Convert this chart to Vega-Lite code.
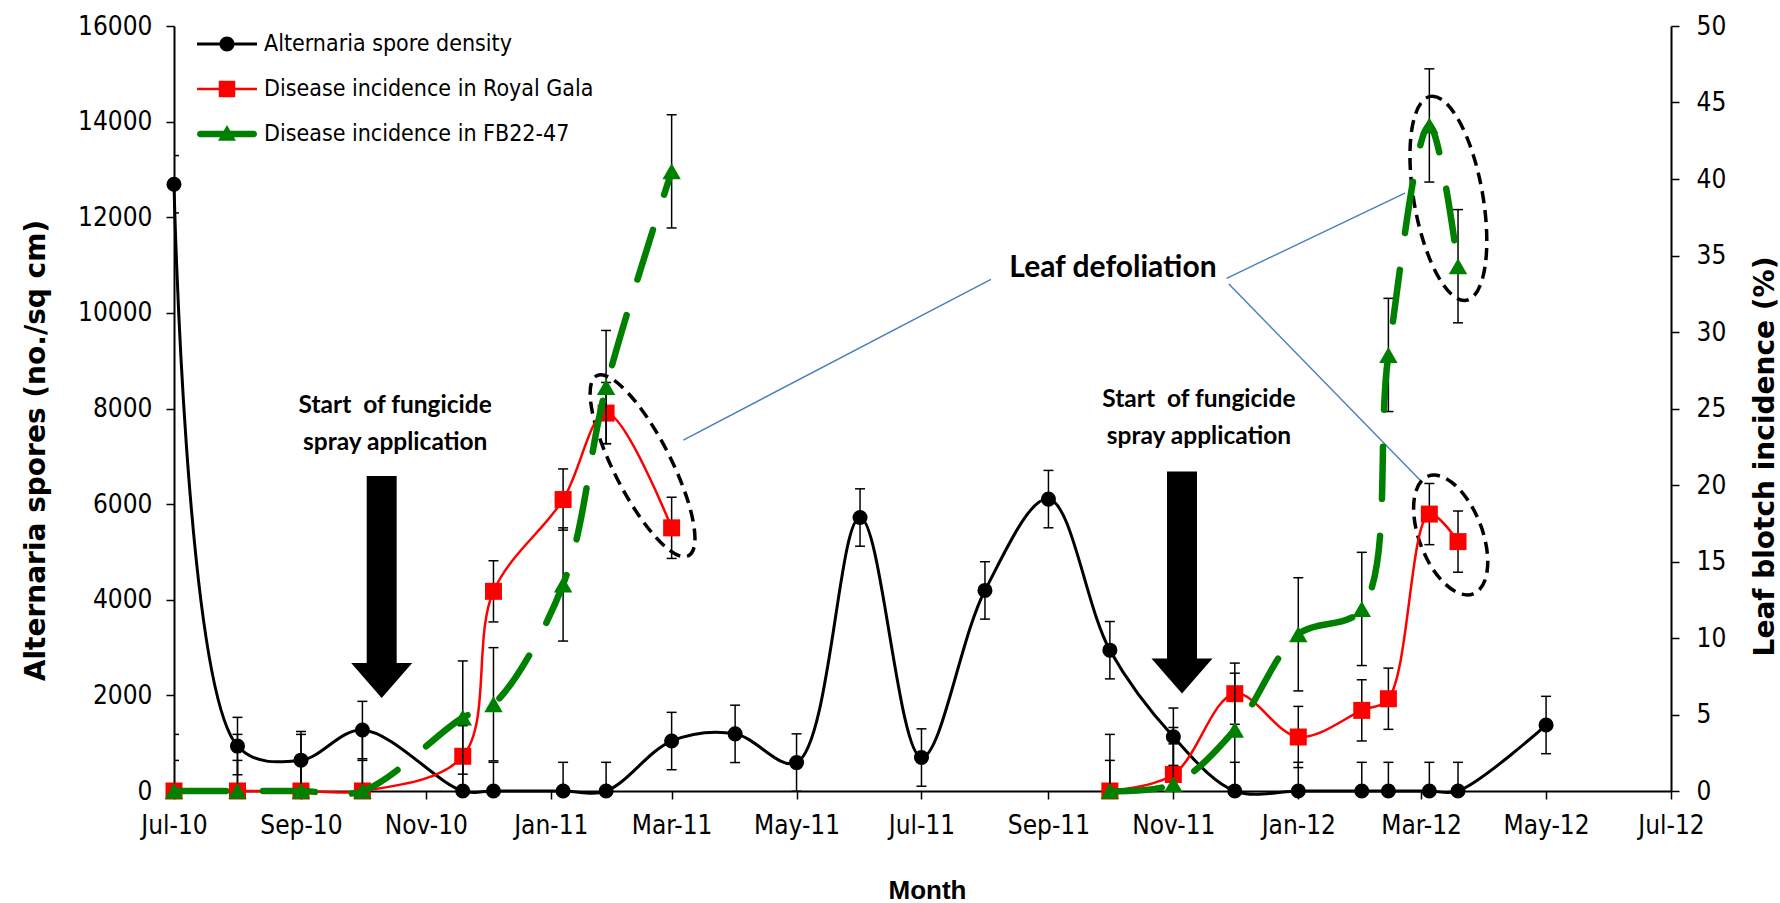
{
  "$schema": "https://vega.github.io/schema/vega-lite/v6.json",
  "autosize": {"type": "none"},
  "padding": {"left": 174, "top": 26, "right": 109, "bottom": 112},
  "width": 1497,
  "height": 765,
  "background": "white",
  "config": {
    "view": {"stroke": null},
    "axis": {"grid": false, "domainColor": "black", "tickColor": "black", "labelColor": "black", "titleColor": "black"}
  },
  "datasets": {
    "spores": [
      {"date": "2010-07-01", "v": 12690, "lo": 12090, "hi": 13290},
      {"date": "2010-08-01", "v": 940, "lo": 340, "hi": 1540},
      {"date": "2010-09-01", "v": 645, "lo": 45, "hi": 1245},
      {"date": "2010-10-01", "v": 1275, "lo": 675, "hi": 1875},
      {"date": "2010-11-19", "v": 0, "lo": -600, "hi": 600},
      {"date": "2010-12-04", "v": 0, "lo": -600, "hi": 600},
      {"date": "2011-01-07", "v": 0, "lo": -600, "hi": 600},
      {"date": "2011-01-28", "v": 0, "lo": -600, "hi": 600},
      {"date": "2011-03-01", "v": 1045, "lo": 445, "hi": 1645},
      {"date": "2011-04-01", "v": 1195, "lo": 595, "hi": 1795},
      {"date": "2011-05-01", "v": 595, "lo": -5, "hi": 1195},
      {"date": "2011-06-01", "v": 5720, "lo": 5120, "hi": 6320},
      {"date": "2011-07-01", "v": 700, "lo": 100, "hi": 1300},
      {"date": "2011-08-01", "v": 4195, "lo": 3595, "hi": 4795},
      {"date": "2011-09-01", "v": 6105, "lo": 5505, "hi": 6705},
      {"date": "2011-10-01", "v": 2945, "lo": 2345, "hi": 3545},
      {"date": "2011-11-01", "v": 1135, "lo": 535, "hi": 1735},
      {"date": "2011-12-01", "v": 0, "lo": -600, "hi": 600},
      {"date": "2012-01-01", "v": 0, "lo": -600, "hi": 600},
      {"date": "2012-02-01", "v": 0, "lo": -600, "hi": 600},
      {"date": "2012-02-14", "v": 0, "lo": -600, "hi": 600},
      {"date": "2012-03-05", "v": 0, "lo": -600, "hi": 600},
      {"date": "2012-03-19", "v": 0, "lo": -600, "hi": 600},
      {"date": "2012-05-01", "v": 1380, "lo": 780, "hi": 1980}
    ],
    "disease": [
      {"date": "2010-07-01", "cultivar": "Royal Gala", "season": 1, "p": 0, "lo": -2, "hi": 2},
      {"date": "2010-08-01", "cultivar": "Royal Gala", "season": 1, "p": 0, "lo": -2, "hi": 2},
      {"date": "2010-09-01", "cultivar": "Royal Gala", "season": 1, "p": 0, "lo": -2, "hi": 2},
      {"date": "2010-10-01", "cultivar": "Royal Gala", "season": 1, "p": 0, "lo": -2, "hi": 2},
      {"date": "2010-11-19", "cultivar": "Royal Gala", "season": 1, "p": 2.27, "lo": 0.27, "hi": 4.27},
      {"date": "2010-12-04", "cultivar": "Royal Gala", "season": 1, "p": 13.05, "lo": 11.05, "hi": 15.05},
      {"date": "2011-01-07", "cultivar": "Royal Gala", "season": 1, "p": 19.05, "lo": 17.05, "hi": 21.05},
      {"date": "2011-01-28", "cultivar": "Royal Gala", "season": 1, "p": 24.7, "lo": 22.7, "hi": 26.7},
      {"date": "2011-03-01", "cultivar": "Royal Gala", "season": 1, "p": 17.2, "lo": 15.2, "hi": 19.2},
      {"date": "2011-10-01", "cultivar": "Royal Gala", "season": 2, "p": 0, "lo": -2, "hi": 2},
      {"date": "2011-11-01", "cultivar": "Royal Gala", "season": 2, "p": 1.08, "lo": -0.92, "hi": 3.08},
      {"date": "2011-12-01", "cultivar": "Royal Gala", "season": 2, "p": 6.36, "lo": 4.36, "hi": 8.36},
      {"date": "2012-01-01", "cultivar": "Royal Gala", "season": 2, "p": 3.53, "lo": 1.53, "hi": 5.53},
      {"date": "2012-02-01", "cultivar": "Royal Gala", "season": 2, "p": 5.27, "lo": 3.27, "hi": 7.27},
      {"date": "2012-02-14", "cultivar": "Royal Gala", "season": 2, "p": 6.03, "lo": 4.03, "hi": 8.03},
      {"date": "2012-03-05", "cultivar": "Royal Gala", "season": 2, "p": 18.1, "lo": 16.1, "hi": 20.1},
      {"date": "2012-03-19", "cultivar": "Royal Gala", "season": 2, "p": 16.3, "lo": 14.3, "hi": 18.3},
      {"date": "2010-07-01", "cultivar": "FB22-47", "season": 1, "p": 0, "lo": -3.7, "hi": 3.7},
      {"date": "2010-08-01", "cultivar": "FB22-47", "season": 1, "p": 0, "lo": -3.7, "hi": 3.7},
      {"date": "2010-09-01", "cultivar": "FB22-47", "season": 1, "p": 0, "lo": -3.7, "hi": 3.7},
      {"date": "2010-10-01", "cultivar": "FB22-47", "season": 1, "p": 0, "lo": -3.7, "hi": 3.7},
      {"date": "2010-11-19", "cultivar": "FB22-47", "season": 1, "p": 4.8, "lo": 1.1, "hi": 8.5},
      {"date": "2010-12-04", "cultivar": "FB22-47", "season": 1, "p": 5.67, "lo": 1.97, "hi": 9.37},
      {"date": "2011-01-07", "cultivar": "FB22-47", "season": 1, "p": 13.5, "lo": 9.8, "hi": 17.2},
      {"date": "2011-01-28", "cultivar": "FB22-47", "season": 1, "p": 26.4, "lo": 22.7, "hi": 30.1},
      {"date": "2011-03-01", "cultivar": "FB22-47", "season": 1, "p": 40.5, "lo": 36.8, "hi": 44.2},
      {"date": "2011-10-01", "cultivar": "FB22-47", "season": 2, "p": 0, "lo": -3.7, "hi": 3.7},
      {"date": "2011-11-01", "cultivar": "FB22-47", "season": 2, "p": 0.45, "lo": -3.25, "hi": 4.15},
      {"date": "2011-12-01", "cultivar": "FB22-47", "season": 2, "p": 4.0, "lo": 0.3, "hi": 7.7},
      {"date": "2012-01-01", "cultivar": "FB22-47", "season": 2, "p": 10.24, "lo": 6.54, "hi": 13.94},
      {"date": "2012-02-01", "cultivar": "FB22-47", "season": 2, "p": 11.9, "lo": 8.2, "hi": 15.6},
      {"date": "2012-02-14", "cultivar": "FB22-47", "season": 2, "p": 28.5, "lo": 24.8, "hi": 32.2},
      {"date": "2012-03-05", "cultivar": "FB22-47", "season": 2, "p": 43.5, "lo": 39.8, "hi": 47.2},
      {"date": "2012-03-19", "cultivar": "FB22-47", "season": 2, "p": 34.3, "lo": 30.6, "hi": 38.0}
    ]
  },
  "encoding": {
    "x": {
      "field": "date",
      "type": "temporal",
      "scale": {"type": "utc", "domain": [{"year": 2010, "month": 7, "date": 1, "utc": true}, {"year": 2012, "month": 7, "date": 1, "utc": true}]},
      "axis": {
        "title": "Month",
        "format": "%b-%y",
        "tickCount": {"interval": "month", "step": 2},
        "labelFont": "DejaVu Sans Condensed, Liberation Sans",
        "labelFontSize": 26,
        "labelPadding": 13,
        "labelFlush": false,
        "labelOverlap": false,
        "tickSize": 8,
        "tickWidth": 1.5,
        "domainWidth": 2,
        "titleFont": "Liberation Sans",
        "titleFontWeight": "bold",
        "titleFontSize": 26,
        "titleX": 753,
        "titleY": 107,
        "titleAlign": "center",
        "titleBaseline": "alphabetic"
      }
    }
  },
  "layer": [
    {
      "data": {"name": "spores"},
      "mark": {"type": "rule", "clip": true, "color": "black", "strokeWidth": 1.5},
      "encoding": {
        "y": {
          "field": "lo", "type": "quantitative",
          "scale": {"domain": [0, 16000], "nice": false},
          "axis": {
            "orient": "left",
            "title": "Alternaria spores (no./sq cm)",
            "values": [0, 2000, 4000, 6000, 8000, 10000, 12000, 14000, 16000],
            "format": "d",
            "labelFont": "DejaVu Sans Condensed, Liberation Sans",
            "labelFontSize": 26,
            "labelPadding": 14,
            "tickSize": 8,
            "tickWidth": 1.5,
            "domainWidth": 2,
            "titleFont": "DejaVu Sans, Liberation Sans",
            "titleFontWeight": "bold",
            "titleFontSize": 28,
            "titleAngle": -90,
            "titleX": -138,
            "titleY": 424,
            "titleAlign": "center",
            "titleBaseline": "middle"
          }
        },
        "y2": {"field": "hi"}
      }
    },
    {
      "data": {"name": "spores"},
      "mark": {"type": "tick", "clip": true, "orient": "horizontal", "color": "black", "size": 10, "thickness": 1.5, "opacity": 1},
      "encoding": {"y": {"field": "lo", "type": "quantitative", "scale": {"domain": [0, 16000], "nice": false}, "axis": null}}
    },
    {
      "data": {"name": "spores"},
      "mark": {"type": "tick", "clip": true, "orient": "horizontal", "color": "black", "size": 10, "thickness": 1.5, "opacity": 1},
      "encoding": {"y": {"field": "hi", "type": "quantitative", "scale": {"domain": [0, 16000], "nice": false}, "axis": null}}
    },
    {
      "data": {"name": "spores"},
      "mark": {"type": "line", "color": "black", "strokeWidth": 3, "interpolate": "catmull-rom"},
      "encoding": {"y": {"field": "v", "type": "quantitative", "scale": {"domain": [0, 16000], "nice": false}, "axis": null}}
    },
    {
      "data": {"name": "spores"},
      "mark": {"type": "point", "shape": "circle", "filled": true, "color": "black", "size": 227, "opacity": 1, "strokeWidth": 0},
      "encoding": {"y": {"field": "v", "type": "quantitative", "scale": {"domain": [0, 16000], "nice": false}, "axis": null}}
    },
    {
      "data": {"values": [{"date": "2010-10-10T10:00:00Z", "v": 4267}, {"date": "2011-11-05T05:00:00Z", "v": 4361}]},
      "mark": {"type": "point", "shape": "M -0.135 -1 L 0.135 -1 L 0.135 0.685 L 0.275 0.685 L 0 1 L -0.275 0.685 L -0.135 0.685 Z", "size": 49284, "filled": true, "color": "black", "opacity": 1, "strokeWidth": 0},
      "encoding": {"y": {"field": "v", "type": "quantitative", "scale": {"domain": [0, 16000], "nice": false}, "axis": null}}
    },
    {
      "data": {"values": [{"date": "2010-10-17T00:00:00Z", "v": 7900, "label": "Start \u00a0of fungicide\nspray application"}, {"date": "2011-11-13T12:00:00Z", "v": 8038, "label": "Start \u00a0of fungicide\nspray application"}]},
      "mark": {"type": "text", "font": "Lato", "fontWeight": "bold", "fontSize": 24.5, "align": "center", "baseline": "alphabetic", "lineBreak": "\n", "lineHeight": 37, "color": "black"},
      "encoding": {"y": {"field": "v", "type": "quantitative", "scale": {"domain": [0, 16000], "nice": false}, "axis": null}, "text": {"field": "label"}}
    },
    {
      "data": {"values": [{"date": "2011-10-02T12:00:00Z", "v": 10744, "label": "Leaf defoliation"}]},
      "mark": {"type": "text", "font": "Lato", "fontWeight": "bold", "fontSize": 30, "align": "center", "baseline": "alphabetic", "color": "black"},
      "encoding": {"y": {"field": "v", "type": "quantitative", "scale": {"domain": [0, 16000], "nice": false}, "axis": null}, "text": {"field": "label"}}
    },
    {
      "data": {"values": [
        {"date": "2011-03-06T17:00:00Z", "v": 7341, "date2": "2011-08-03T22:00:00Z", "v2": 10702},
        {"date": "2011-11-27T00:00:00Z", "v": 10723, "date2": "2012-02-22T02:00:00Z", "v2": 12507},
        {"date": "2011-11-28T02:00:00Z", "v": 10604, "date2": "2012-02-29T10:00:00Z", "v2": 6505}
      ]},
      "mark": {"type": "rule", "color": "#4a7ebb", "strokeWidth": 1.4},
      "encoding": {"y": {"field": "v", "type": "quantitative", "scale": {"domain": [0, 16000], "nice": false}, "axis": null}, "x2": {"field": "date2"}, "y2": {"field": "v2"}}
    },
    {
      "data": {"values": [{"date": "2011-02-14T19:00:00Z", "v": 6802}]},
      "mark": {"type": "point", "shape": "M -1 0 A 1 0.282 0 1 1 1 0 A 1 0.282 0 1 1 -1 0 Z", "size": 40804, "angle": 63, "filled": false, "color": "black", "strokeWidth": 3.5, "strokeDash": [12, 7], "opacity": 1},
      "encoding": {"y": {"field": "v", "type": "quantitative", "scale": {"domain": [0, 16000], "nice": false}, "axis": null}}
    },
    {
      "data": {"values": [{"date": "2012-03-14T07:00:00Z", "v": 12396}]},
      "mark": {"type": "point", "shape": "M -1 0 A 1 0.333 0 1 1 1 0 A 1 0.333 0 1 1 -1 0 Z", "size": 42849, "angle": 80, "filled": false, "color": "black", "strokeWidth": 3.5, "strokeDash": [12, 7], "opacity": 1},
      "encoding": {"y": {"field": "v", "type": "quantitative", "scale": {"domain": [0, 16000], "nice": false}, "axis": null}}
    },
    {
      "data": {"values": [{"date": "2012-03-15T10:00:00Z", "v": 5354}]},
      "mark": {"type": "point", "shape": "M -1 0 A 1 0.5 0 1 1 1 0 A 1 0.5 0 1 1 -1 0 Z", "size": 15876, "angle": 69, "filled": false, "color": "black", "strokeWidth": 3.5, "strokeDash": [12, 7], "opacity": 1},
      "encoding": {"y": {"field": "v", "type": "quantitative", "scale": {"domain": [0, 16000], "nice": false}, "axis": null}}
    },
    {
      "data": {"name": "disease"},
      "transform": [{"filter": "datum.cultivar === 'Royal Gala'"}],
      "mark": {"type": "rule", "clip": true, "color": "black", "strokeWidth": 1.5},
      "encoding": {
        "y": {
          "field": "lo", "type": "quantitative",
          "scale": {"domain": [0, 50], "nice": false},
          "axis": {
            "orient": "right",
            "title": "Leaf blotch incidence (%)",
            "values": [0, 5, 10, 15, 20, 25, 30, 35, 40, 45, 50],
            "format": "d",
            "labelFont": "DejaVu Sans Condensed, Liberation Sans",
            "labelFontSize": 26,
            "labelPadding": 17,
            "tickSize": 8,
            "tickWidth": 1.5,
            "domainWidth": 2,
            "titleFont": "DejaVu Sans, Liberation Sans",
            "titleFontWeight": "bold",
            "titleFontSize": 28,
            "titleAngle": -90,
            "titleX": 94,
            "titleY": 430,
            "titleAlign": "center",
            "titleBaseline": "middle"
          }
        },
        "y2": {"field": "hi"}
      }
    },
    {
      "data": {"name": "disease"},
      "transform": [{"filter": "datum.cultivar === 'Royal Gala'"}],
      "mark": {"type": "tick", "clip": true, "orient": "horizontal", "color": "black", "size": 10, "thickness": 1.5, "opacity": 1},
      "encoding": {"y": {"field": "lo", "type": "quantitative", "scale": {"domain": [0, 50], "nice": false}, "axis": null}}
    },
    {
      "data": {"name": "disease"},
      "transform": [{"filter": "datum.cultivar === 'Royal Gala'"}],
      "mark": {"type": "tick", "clip": true, "orient": "horizontal", "color": "black", "size": 10, "thickness": 1.5, "opacity": 1},
      "encoding": {"y": {"field": "hi", "type": "quantitative", "scale": {"domain": [0, 50], "nice": false}, "axis": null}}
    },
    {
      "data": {"name": "disease"},
      "transform": [{"filter": "datum.cultivar === 'Royal Gala'"}],
      "mark": {"type": "line", "color": "#ff0000", "strokeWidth": 2.5, "interpolate": "catmull-rom"},
      "encoding": {"y": {"field": "p", "type": "quantitative", "scale": {"domain": [0, 50], "nice": false}, "axis": null}, "detail": {"field": "season", "type": "nominal"}}
    },
    {
      "data": {"name": "disease"},
      "transform": [{"filter": "datum.cultivar === 'Royal Gala'"}],
      "mark": {"type": "point", "shape": "square", "filled": true, "color": "#ff0000", "size": 289, "opacity": 1, "strokeWidth": 0},
      "encoding": {"y": {"field": "p", "type": "quantitative", "scale": {"domain": [0, 50], "nice": false}, "axis": null}}
    },
    {
      "data": {"name": "disease"},
      "transform": [{"filter": "datum.cultivar === 'FB22-47'"}],
      "mark": {"type": "rule", "clip": true, "color": "black", "strokeWidth": 1.5},
      "encoding": {"y": {"field": "lo", "type": "quantitative", "scale": {"domain": [0, 50], "nice": false}, "axis": null}, "y2": {"field": "hi"}}
    },
    {
      "data": {"name": "disease"},
      "transform": [{"filter": "datum.cultivar === 'FB22-47'"}],
      "mark": {"type": "tick", "clip": true, "orient": "horizontal", "color": "black", "size": 10, "thickness": 1.5, "opacity": 1},
      "encoding": {"y": {"field": "lo", "type": "quantitative", "scale": {"domain": [0, 50], "nice": false}, "axis": null}}
    },
    {
      "data": {"name": "disease"},
      "transform": [{"filter": "datum.cultivar === 'FB22-47'"}],
      "mark": {"type": "tick", "clip": true, "orient": "horizontal", "color": "black", "size": 10, "thickness": 1.5, "opacity": 1},
      "encoding": {"y": {"field": "hi", "type": "quantitative", "scale": {"domain": [0, 50], "nice": false}, "axis": null}}
    },
    {
      "data": {"name": "disease"},
      "transform": [{"filter": "datum.cultivar === 'FB22-47'"}],
      "mark": {"type": "line", "color": "#008000", "strokeWidth": 6.5, "strokeDash": [52, 37], "strokeCap": "round", "interpolate": "catmull-rom"},
      "encoding": {"y": {"field": "p", "type": "quantitative", "scale": {"domain": [0, 50], "nice": false}, "axis": null}, "detail": {"field": "season", "type": "nominal"}}
    },
    {
      "data": {"name": "disease"},
      "transform": [{"filter": "datum.cultivar === 'FB22-47'"}],
      "mark": {"type": "point", "shape": "triangle-up", "filled": true, "color": "#008000", "size": 340, "opacity": 1, "strokeWidth": 0},
      "encoding": {"y": {"field": "p", "type": "quantitative", "scale": {"domain": [0, 50], "nice": false}, "axis": null}}
    },
    {
      "data": {"name": "disease"},
      "transform": [{"filter": "false"}],
      "mark": {"type": "point", "filled": true, "opacity": 1, "strokeWidth": 0},
      "encoding": {
        "y": {"field": "p", "type": "quantitative", "scale": {"domain": [0, 50], "nice": false}, "axis": null},
        "color": {
          "field": "series", "type": "nominal",
          "scale": {"domain": ["Alternaria spore density", "Disease incidence in Royal Gala", "Disease incidence in FB22-47"], "range": ["#000000", "#ff0000", "#008000"]},
          "legend": {"title": null, "orient": "none", "legendX": 38, "legendY": 3, "padding": 0, "symbolSize": 900, "symbolStrokeWidth": 0, "symbolOpacity": 1, "labelFont": "DejaVu Sans Condensed, Liberation Sans", "labelFontSize": 23, "labelColor": "black", "labelLimit": 0, "labelOffset": 22, "rowPadding": 18}
        },
        "shape": {
          "field": "series", "type": "nominal",
          "scale": {"domain": ["Alternaria spore density", "Disease incidence in Royal Gala", "Disease incidence in FB22-47"], "range": [
            "M -2 -0.1 L 2 -0.1 L 2 0.1 L -2 0.1 Z M 0.5 0 A 0.5 0.5 0 1 1 -0.5 0 A 0.5 0.5 0 1 1 0.5 0 Z",
            "M -2 -0.09 L 2 -0.09 L 2 0.09 L -2 0.09 Z M -0.55 -0.55 L 0.55 -0.55 L 0.55 0.55 L -0.55 0.55 Z",
            "M -1.78 -0.22 L 1.78 -0.22 A 0.22 0.22 0 0 1 1.78 0.22 L -1.78 0.22 A 0.22 0.22 0 0 1 -1.78 -0.22 Z M 0 -0.6 L 0.6 0.45 L -0.6 0.45 Z"
          ]},
          "legend": {"title": null, "orient": "none", "legendX": 38, "legendY": 3, "padding": 0, "symbolSize": 900, "symbolStrokeWidth": 0, "symbolOpacity": 1, "labelFont": "DejaVu Sans Condensed, Liberation Sans", "labelFontSize": 23, "labelColor": "black", "labelLimit": 0, "labelOffset": 22, "rowPadding": 18}
        }
      }
    }
  ],
  "resolve": {"scale": {"y": "independent"}}
}
